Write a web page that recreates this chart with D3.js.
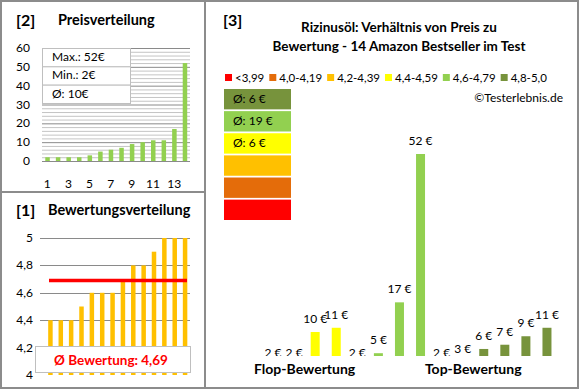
<!DOCTYPE html>
<meta charset="utf-8">
<style>
  body { margin: 0; background: #fff; }
  svg text { font-family: Lato, "Open Sans", sans-serif; }
</style>
<body>
<svg width="580" height="390"></svg>
</body>
<script src="https://d3js.org/d3.v7.min.js"></script>
<script>

// prices, sorted ascending (panel [2])
var prices = [2, 2, 2, 2, 3, 5, 6, 7, 9, 10, 11, 11, 17, 52];
var priceTicks = [0, 10, 20, 30, 40, 50, 60];
var priceXLabels = [1, 3, 5, 7, 9, 11, 13];
var priceInfo = ["Max.: 52€", "Min.: 2€", "Ø: 10€"];

// ratings, sorted ascending (panel [1])
var ratings = [4.4, 4.4, 4.4, 4.5, 4.6, 4.6, 4.6, 4.7, 4.8, 4.8, 4.9, 5, 5, 5];
var ratingTicks = [4, 4.2, 4.4, 4.6, 4.8, 5];
var ratingAvg = 4.69;

// panel [3]: price per product ordered by rating, with rating class
var mainPrices = [2, 2, 10, 11, 2, 5, 17, 52, 2, 3, 6, 7, 9, 11];
var mainClass  = [3, 3, 3, 3, 4, 4, 4, 4, 5, 5, 5, 5, 5, 5];
var classNames = ["<3,99", "4,0-4,19", "4,2-4,39", "4,4-4,59", "4,6-4,79", "4,8-5,0"];
var classColors = ["#ff0000", "#e46c0a", "#ffc000", "#ffff00", "#92d050", "#77933c"];
var classAvg = ["", "", "", "Ø: 6 €", "Ø: 19 €", "Ø: 6 €"];

var svg = d3.select("svg");
var comma = v => String(v).replace(".", ",");

// ---------- panel [2] Preisverteilung ----------
var x2 = d3.scaleBand().domain(d3.range(prices.length)).range([42, 190]);
var y2 = d3.scaleLinear().domain([0, 60]).range([161, 48]);

var g2 = svg.append("g");
g2.selectAll("line.grid")
  .data(d3.range(0, 61, 2))
  .join("line")
    .attr("x1", 42).attr("x2", 190)
    .attr("y1", d => y2(d) + 0.5).attr("y2", d => y2(d) + 0.5)
    .attr("stroke", d => d % 10 === 0 ? "#8a8a8a" : "#c4c4c4")
    .attr("stroke-width", 1);

g2.selectAll("text.ytick")
  .data(priceTicks)
  .join("text")
    .attr("x", 30).attr("y", d => y2(d) + 4)
    .attr("text-anchor", "end")
    .attr("font-size", 12)
    .text(d => d);

g2.selectAll("rect.bar")
  .data(prices)
  .join("rect")
    .attr("x", (d, i) => x2(i) + x2.bandwidth() / 2 - 2)
    .attr("width", 4.5)
    .attr("y", d => y2(d))
    .attr("height", d => y2(0) - y2(d))
    .attr("fill", "#92d050");

g2.selectAll("text.xtick")
  .data(priceXLabels)
  .join("text")
    .attr("x", d => x2(d - 1) + x2.bandwidth() / 2)
    .attr("y", 188)
    .attr("text-anchor", "middle")
    .attr("font-size", 12)
    .text(d => d);

// info box
var rowH = (103 - 48) / priceInfo.length;
g2.selectAll("rect.info")
  .data(priceInfo)
  .join("rect")
    .attr("x", 42.5).attr("y", (d, i) => 48.5 + i * rowH)
    .attr("width", 88).attr("height", rowH)
    .attr("fill", "#fff").attr("stroke", "#bfbfbf");
g2.selectAll("text.info")
  .data(priceInfo)
  .join("text")
    .attr("x", 52).attr("y", (d, i) => 48 + i * rowH + 13)
    .attr("font-size", 12)
    .text(d => d);

svg.append("text").attr("x", 16).attr("y", 26)
  .attr("font-size", 16).attr("font-weight", "bold").text("[2]");
svg.append("text").attr("x", 58).attr("y", 25)
  .attr("font-size", 14.5).attr("font-weight", "bold").text("Preisverteilung");

// ---------- panel [1] Bewertungsverteilung ----------
var x1 = d3.scaleBand().domain(d3.range(ratings.length)).range([45, 190]);
var y1 = d3.scaleLinear().domain([4, 5]).range([375, 238]);

var g1 = svg.append("g");
g1.selectAll("line.grid")
  .data(ratingTicks.slice(1))
  .join("line")
    .attr("x1", 40).attr("x2", 190)
    .attr("y1", d => Math.round(y1(d)) + 0.5).attr("y2", d => Math.round(y1(d)) + 0.5)
    .attr("stroke", "#8a8a8a");

g1.selectAll("text.ytick")
  .data(ratingTicks)
  .join("text")
    .attr("x", 33).attr("y", d => y1(d) + 4)
    .attr("text-anchor", "end")
    .attr("font-size", 12)
    .text(d => comma(d));

g1.selectAll("rect.bar")
  .data(ratings)
  .join("rect")
    .attr("x", (d, i) => x1(i) + x1.bandwidth() / 2 - 2)
    .attr("width", 4.5)
    .attr("y", d => y1(d))
    .attr("height", d => y1(4) - y1(d))
    .attr("fill", "#ffc000");

g1.append("line")
  .attr("x1", 49).attr("x2", 187)
  .attr("y1", y1(ratingAvg)).attr("y2", y1(ratingAvg))
  .attr("stroke", "#ff0000").attr("stroke-width", 3.5);

g1.append("rect")
  .attr("x", 35.5).attr("y", 346.5).attr("width", 155).attr("height", 26)
  .attr("fill", "#fff").attr("stroke", "#bfbfbf");
g1.append("text")
  .attr("x", 111).attr("y", 364.5)
  .attr("text-anchor", "middle")
  .attr("font-size", 13.5).attr("font-weight", "bold").attr("fill", "#ff0000")
  .text("Ø Bewertung: " + comma(ratingAvg));

svg.append("text").attr("x", 16).attr("y", 216)
  .attr("font-size", 16).attr("font-weight", "bold").text("[1]");
svg.append("text").attr("x", 48).attr("y", 215)
  .attr("font-size", 14.5).attr("font-weight", "bold").text("Bewertungsverteilung");

// ---------- panel [3] main chart ----------
var g3 = svg.append("g");
svg.append("text").attr("x", 223).attr("y", 26)
  .attr("font-size", 16).attr("font-weight", "bold").text("[3]");
g3.selectAll("text.title")
  .data(["Rizinusöl: Verhältnis von Preis zu", "Bewertung - 14 Amazon Bestseller im Test"])
  .join("text")
    .attr("x", 399).attr("y", (d, i) => 32 + i * 19)
    .attr("text-anchor", "middle")
    .attr("font-size", 13.5).attr("font-weight", "bold")
    .text(d => d);

// legend (flow layout)
var lx = 225;
classNames.forEach(function (name, i) {
  g3.append("rect").attr("x", lx).attr("y", 74).attr("width", 7).attr("height", 7)
    .attr("fill", classColors[i]);
  var t = g3.append("text").attr("x", lx + 10).attr("y", 82)
    .attr("font-size", 11.5).text(name);
  lx += 10 + t.node().getComputedTextLength() + 5;
});

g3.append("text").attr("x", 563).attr("y", 102)
  .attr("text-anchor", "end").attr("font-size", 12).text("©Testerlebnis.de");

// class boxes, best class on top
var boxOrder = d3.range(classNames.length).reverse();
var yb = d3.scaleBand().domain(d3.range(boxOrder.length)).range([89, 220]).paddingInner(0.08);
g3.selectAll("rect.box")
  .data(boxOrder)
  .join("rect")
    .attr("x", 224).attr("width", 67)
    .attr("y", (d, i) => yb(i)).attr("height", yb.bandwidth())
    .attr("fill", d => classColors[d]);
g3.selectAll("text.box")
  .data(boxOrder)
  .join("text")
    .attr("x", 233).attr("y", (d, i) => yb(i) + yb.bandwidth() / 2 + 4)
    .attr("font-size", 12)
    .text(d => classAvg[d]);

// bars
var x3 = d3.scaleBand().domain(d3.range(mainPrices.length)).range([262.5, 557.5]);
var y3 = d3.scaleLinear().domain([4.34, 52]).range([356, 154]);

svg.append("clipPath").attr("id", "clip3")
  .append("rect").attr("x", 210).attr("y", 60).attr("width", 365).attr("height", 296);

var plot = g3.append("g").attr("clip-path", "url(#clip3)");
plot.selectAll("rect.bar")
  .data(mainPrices)
  .join("rect")
    .attr("x", (d, i) => x3(i) + x3.bandwidth() / 2 - 4.5)
    .attr("width", 9)
    .attr("y", d => Math.min(y3(d), y3(4.34)))
    .attr("height", d => Math.max(0, y3(4.34) - y3(d)))
    .attr("fill", (d, i) => classColors[mainClass[i]]);
plot.selectAll("text.val")
  .data(mainPrices)
  .join("text")
    .attr("x", (d, i) => x3(i) + x3.bandwidth() / 2)
    .attr("y", d => y3(d) - 9)
    .attr("text-anchor", "middle")
    .attr("font-size", 12)
    .text(d => d + " €");

g3.selectAll("text.group")
  .data([["Flop-Bewertung", 1.5], ["Top-Bewertung", 9.5]])
  .join("text")
    .attr("x", d => x3(Math.floor(d[1])) + x3.bandwidth())
    .attr("y", 374)
    .attr("text-anchor", "middle")
    .attr("font-size", 14).attr("font-weight", "bold")
    .text(d => d[0]);

// ---------- frames ----------
var frame = svg.append("g").attr("fill", "none").attr("stroke", "#8c8c8c").attr("stroke-width", 2);
frame.append("rect").attr("x", 1).attr("y", 1).attr("width", 577).attr("height", 387);
frame.append("line").attr("x1", 205).attr("x2", 205).attr("y1", 1).attr("y2", 388);
frame.append("line").attr("x1", 1).attr("x2", 205).attr("y1", 192).attr("y2", 192);

</script>
